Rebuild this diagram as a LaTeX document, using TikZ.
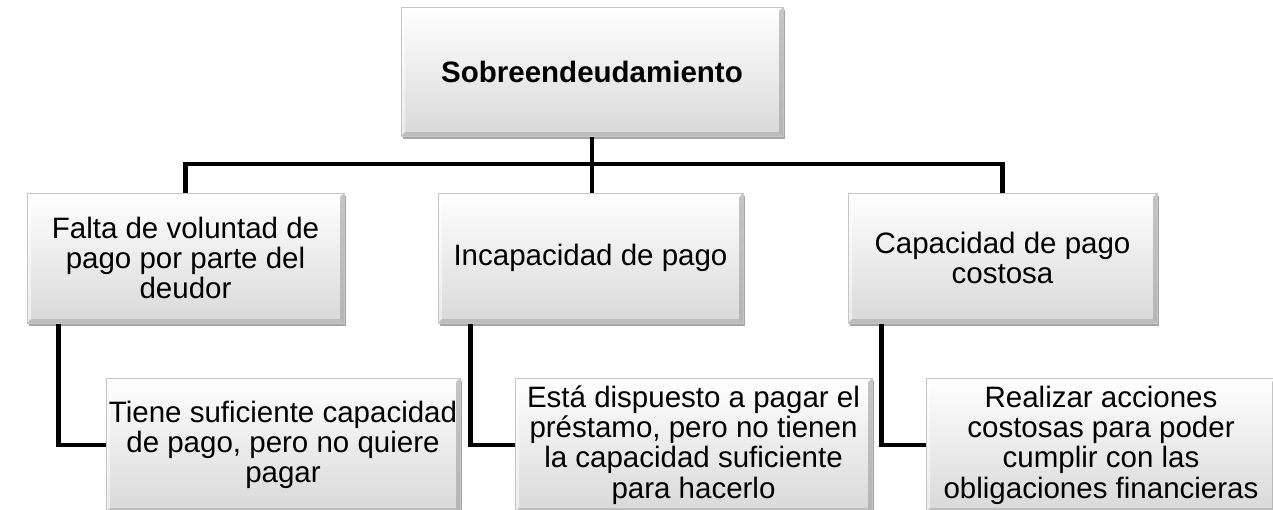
\documentclass[tikz,border=0pt]{standalone}
\usepackage{fontspec}
\setmainfont{Liberation Sans}
\usetikzlibrary{shadows,backgrounds,calc}
\tikzset{
  bx/.style={draw=gray!45, line width=0.6pt, top color=white, bottom color=gray!30,
    drop shadow={shadow xshift=1.5pt, shadow yshift=-3pt, opacity=0.35, fill=black},
    inner sep=0pt, align=center, text=black,
    font=\fontsize{29.5}{30.3}\selectfont,
    path picture={
      \fill[white,opacity=0.8] (path picture bounding box.north west) -- (path picture bounding box.north east)
        -- ($(path picture bounding box.north east)+(-4pt,-4pt)$) -- ($(path picture bounding box.north west)+(4pt,-4pt)$) -- cycle;
      \fill[white,opacity=0.5] (path picture bounding box.north west) -- (path picture bounding box.south west)
        -- ($(path picture bounding box.south west)+(4pt,4pt)$) -- ($(path picture bounding box.north west)+(4pt,-4pt)$) -- cycle;
      \fill[gray!70,opacity=0.55] (path picture bounding box.south west) -- (path picture bounding box.south east)
        -- ($(path picture bounding box.south east)+(-4pt,4pt)$) -- ($(path picture bounding box.south west)+(4pt,4pt)$) -- cycle;
      \fill[gray!75,opacity=0.6] (path picture bounding box.south east) -- (path picture bounding box.north east)
        -- ($(path picture bounding box.north east)+(-4pt,-4pt)$) -- ($(path picture bounding box.south east)+(-4pt,4pt)$) -- cycle;
    }},
  link/.style={line width=4.5pt, black, line cap=rect}
}
\begin{document}
\begin{tikzpicture}[x=1pt,y=-1pt]
\clip (0,0) rectangle (1273,509);
\node[bx, minimum width=382pt, minimum height=129pt] (top) at (592,71.5) {\textbf{Sobreendeudamiento}};
\node[bx, minimum width=317pt, minimum height=130pt] (m1) at (185.5,258) {Falta de voluntad de\\pago por parte del\\deudor};
\node[bx, minimum width=305pt, minimum height=130pt] (m2) at (590.5,258) {Incapacidad de pago};
\node[bx, minimum width=309pt, minimum height=130pt] (m3) at (1002.5,258) {Capacidad de pago\\costosa};
\node[bx, minimum width=354pt, minimum height=134pt] (c1) at (283,445) {Tiene suficiente capacidad\\de pago, pero no quiere\\pagar};
\node[bx, minimum width=357pt, minimum height=134pt] (c2) at (693.5,445) {Está dispuesto a pagar el\\préstamo, pero no tienen\\la capacidad suficiente\\para hacerlo};
\node[bx, minimum width=350pt, minimum height=134pt] (c3) at (1101,445) {Realizar acciones\\costosas para poder\\cumplir con las\\obligaciones financieras};
\coordinate (bar) at (top.south |- 0,164);
\begin{pgfonlayer}{background}
\fill[white] (0,0) rectangle (1273,509);
\draw[link] (top.south) -- (bar);
\draw[link] (m1.north) |- (bar) -| (m3.north);
\draw[link] (bar) -- (bar |- m2.north);
\draw[link] ($(m1.south west)+(32pt,0)$) |- (c1.west);
\draw[link] ($(m2.south west)+(33pt,0)$) |- (c2.west);
\draw[link] ($(m3.south west)+(34pt,0)$) |- (c3.west);
\end{pgfonlayer}
\end{tikzpicture}
\end{document}
